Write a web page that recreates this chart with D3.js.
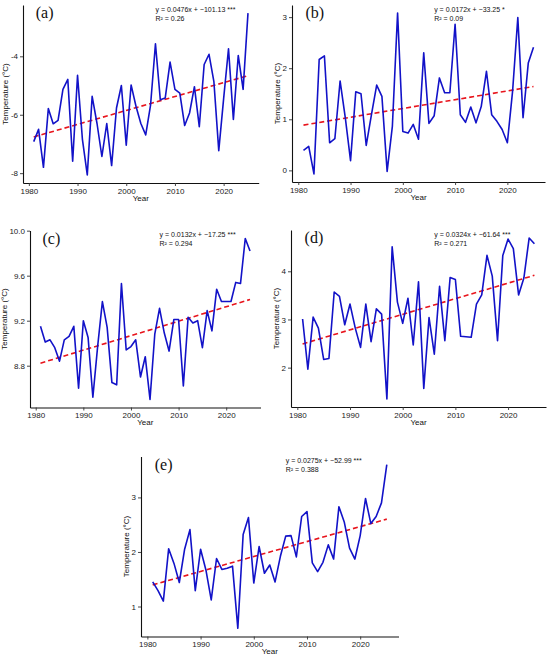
<!DOCTYPE html>
<html>
<head>
<meta charset="utf-8">
<script src="https://cdn.jsdelivr.net/npm/d3@7"></script>
<style>
body { margin:0; background:#fff; }
text { font-family:"Liberation Sans", Arial, sans-serif; }
</style>
</head>
<body>
<svg></svg>
<script>
// years 1981-2025
var years = d3.range(1981, 2026)

var tempA = [-6.92,-6.50,-7.80,-5.79,-6.31,-6.19,-5.13,-4.79,-7.59,-4.65,
             -6.84,-8.06,-5.37,-6.30,-7.43,-6.30,-7.74,-5.77,-5.00,-7.04,
             -4.98,-5.71,-6.30,-6.69,-5.66,-3.57,-5.49,-5.43,-4.20,-5.13,
             -5.26,-6.37,-5.94,-5.04,-6.41,-4.28,-3.93,-4.87,-7.23,-5.45,
             -3.74,-6.16,-3.97,-5.13,-2.52]
var tempB = [0.39,0.47,-0.07,2.17,2.24,0.54,0.62,1.75,1.03,0.19,
             1.54,1.50,0.49,1.09,1.67,1.45,-0.02,0.86,3.08,0.76,
             0.73,0.90,0.61,2.30,0.92,1.07,1.81,1.52,1.52,2.86,
             1.09,0.94,1.24,0.93,1.25,1.94,1.09,0.96,0.80,0.54,
             1.55,2.99,1.03,2.10,2.41]
var tempC = [9.15,9.01,9.03,8.96,8.84,9.03,9.06,9.15,8.60,9.20,
             9.05,8.52,8.97,9.37,9.14,8.65,8.63,9.53,8.94,8.97,
             9.03,8.70,8.88,8.50,9.08,9.31,9.09,8.93,9.21,9.21,
             8.62,9.23,9.18,9.20,8.96,9.29,9.11,9.48,9.37,9.37,
             9.37,9.54,9.53,9.93,9.82]
var tempD = [3.01,1.97,3.05,2.82,2.17,2.19,3.57,3.48,2.89,3.32,
             2.82,2.42,3.32,2.54,3.22,3.11,1.35,4.51,3.36,2.92,
             3.44,2.47,3.78,1.57,3.04,2.28,3.69,2.56,3.87,3.83,
             2.65,2.64,2.63,3.32,3.51,4.33,3.90,2.56,4.33,4.67,
             4.47,3.51,3.86,4.69,4.57]
var tempE = [1.45,1.29,1.10,2.06,1.79,1.44,2.05,2.41,1.29,2.05,
             1.67,1.12,1.88,1.68,1.70,1.74,0.60,2.32,2.63,1.43,
             2.10,1.61,1.76,1.45,1.92,2.29,2.30,1.91,2.65,2.74,
             1.80,1.64,1.81,2.13,1.87,2.83,2.55,2.07,1.87,2.30,
             2.98,2.52,2.65,2.90,3.60]

var panelLabels = ["(a)","(b)","(c)","(d)","(e)"]
var equations = ["y = 0.0476x + \u2212101.13 ***",
                 "y = 0.0172x + \u221233.25 *",
                 "y = 0.0132x + \u221217.25 ***",
                 "y = 0.0324x + \u221261.64 ***",
                 "y = 0.0275x + \u221252.99 ***"]
var rSquared = ["R\u00b2 = 0.26","R\u00b2 = 0.09","R\u00b2 = 0.294","R\u00b2 = 0.271","R\u00b2 = 0.388"]

var xTicks = [1980,1990,2000,2010,2020]
var yTicksA = [-8,-6,-4]
var yTicksB = [0,1,2,3]
var yTicksC = [8.8,9.2,9.6,10.0]
var yTicksD = [2,3,4]
var yTicksE = [1,2,3]

var screen = {width:550, height:657}

// plot areas in page pixels
var boxes = [
    {x0:23,  x1:258.7, y0:5,     y1:183},
    {x0:292, x1:545,   y0:5,     y1:182},
    {x0:30,  x1:260.5, y0:230.5, y1:407.5},
    {x0:291, x1:546,   y0:230,   y1:407},
    {x0:141, x1:398.5, y0:456.5, y1:636.5}
]

var series = [tempA,tempB,tempC,tempD,tempE]
var yTicks = [yTicksA,yTicksB,yTicksC,yTicksD,yTicksE]
var yFormats = [d3.format("d"),d3.format("d"),d3.format(".1f"),d3.format("d"),d3.format("d")]

var svg = d3.select("svg")
    .attr("width",screen.width)
    .attr("height",screen.height)

// ggplot style 5% padding
var expand = function(ext)
{
    var pad = (ext[1]-ext[0])*0.05
    return [ext[0]-pad, ext[1]+pad]
}

// least squares line
var fit = function(xs, ys)
{
    var mx = d3.mean(xs), my = d3.mean(ys)
    var sxy = d3.sum(xs, function(x,i){ return (x-mx)*(ys[i]-my) })
    var sxx = d3.sum(xs, function(x){ return (x-mx)*(x-mx) })
    var b = sxy/sxx
    return {slope:b, intercept:my-b*mx}
}

var drawPanel = function(i)
{
    var box = boxes[i]
    var values = series[i]
    var g = svg.append("g").attr("class","panel")

    var xScale = d3.scaleLinear()
        .domain(expand(d3.extent(years)))
        .range([box.x0, box.x1])
    var yScale = d3.scaleLinear()
        .domain(expand(d3.extent(values)))
        .range([box.y1, box.y0])

    var xAxis = d3.axisBottom(xScale)
        .tickValues(xTicks)
        .tickFormat(d3.format("d"))
        .tickSizeInner(3)
        .tickSizeOuter(0)
        .tickPadding(2)
    var yAxis = d3.axisLeft(yScale)
        .tickValues(yTicks[i])
        .tickFormat(function(d){ return yFormats[i](d).replace("\u2212","-") })
        .tickSizeInner(3)
        .tickSizeOuter(0)
        .tickPadding(2)

    var gx = g.append("g")
        .attr("transform","translate(0,"+box.y1+")")
        .call(xAxis)
    var gy = g.append("g")
        .attr("transform","translate("+box.x0+",0)")
        .call(yAxis)

    g.selectAll(".domain").attr("stroke","#111").attr("stroke-width",1.1)
    g.selectAll(".tick line").attr("stroke","#333").attr("stroke-width",0.9)
    g.selectAll(".tick text")
        .attr("fill","#222")
        .style("font-size","8px")
        .style("font-family","Liberation Sans, Arial, sans-serif")

    // axis titles
    g.append("text")
        .attr("x",(box.x0+box.x1)/2)
        .attr("y",box.y1+17.5)
        .attr("text-anchor","middle")
        .attr("fill","#111")
        .style("font-size","8px")
        .text("Year")

    var labelLeft = gy.node().getBBox().x + box.x0
    g.append("text")
        .attr("transform","translate("+(labelLeft-2.5)+","+((box.y0+box.y1)/2)+") rotate(-90)")
        .attr("text-anchor","middle")
        .attr("fill","#111")
        .style("font-size","8px")
        .text("Temperature (\u00b0C)")

    // trend line
    var trend = fit(years, values)
    var ends = [years[0], years[years.length-1]]
    g.append("path")
        .datum(ends)
        .attr("d", d3.line()
            .x(function(d){ return xScale(d) })
            .y(function(d){ return yScale(trend.intercept + trend.slope*d) }))
        .attr("fill","none")
        .attr("stroke","#e8141c")
        .attr("stroke-width",1.6)
        .attr("stroke-dasharray","5,3")

    // temperature series
    g.append("path")
        .datum(values)
        .attr("d", d3.line()
            .x(function(d,j){ return xScale(years[j]) })
            .y(function(d){ return yScale(d) }))
        .attr("fill","none")
        .attr("stroke","#1212c8")
        .attr("stroke-width",1.6)
        .attr("stroke-linejoin","round")

    // panel tag and equation
    g.append("text")
        .attr("x",xScale(years[0])+2)
        .attr("y",box.y0+13)
        .attr("fill","#111")
        .style("font-family","Liberation Serif, Times New Roman, serif")
        .style("font-size","16px")
        .text(panelLabels[i])

    g.append("text")
        .attr("x",xScale(2006))
        .attr("y",box.y0+6.5)
        .attr("fill","#111")
        .style("font-size","7px")
        .text(equations[i])
    g.append("text")
        .attr("x",xScale(2006))
        .attr("y",box.y0+15.5)
        .attr("fill","#111")
        .style("font-size","7px")
        .text(rSquared[i])
}

for (var i = 0; i < series.length; i++)
{
    drawPanel(i)
}
</script>
</body>
</html>
